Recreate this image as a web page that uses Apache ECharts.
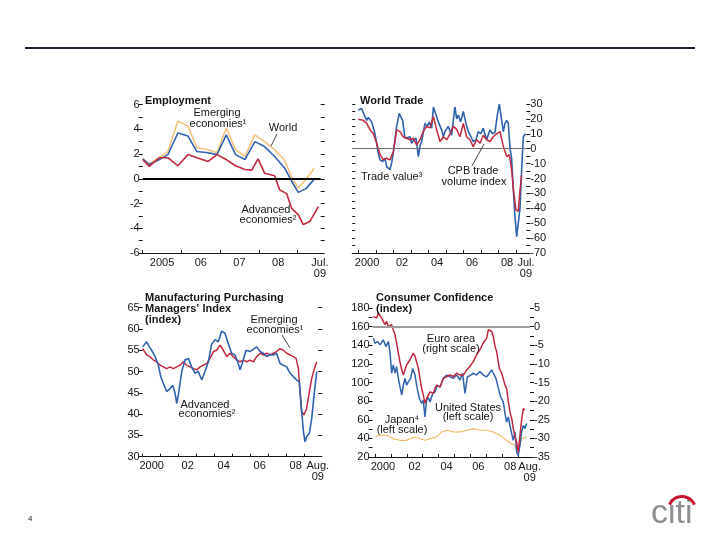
<!DOCTYPE html>
<html><head><meta charset="utf-8">
<script src="https://cdn.jsdelivr.net/npm/echarts@6/dist/echarts.min.js"></script>
<style>html,body{margin:0;padding:0;background:#fff}#c{width:720px;height:540px}</style>
</head><body><div id="c"></div>
<script>
// ---------- Employment (percent change) ----------
const empDates = [2005.0, 2005.17, 2005.43, 2005.65, 2005.91, 2006.17, 2006.4, 2006.69, 2006.92, 2007.16, 2007.4, 2007.64, 2007.9, 2008.15, 2008.41, 2008.67, 2008.85, 2009.02, 2009.22, 2009.43];
const empWorld = [1.6, 1.15, 1.55, 1.95, 3.7, 3.45, 2.2, 2.1, 1.95, 3.55, 1.95, 1.55, 3.0, 2.6, 1.8, 0.85, -0.2, -1.1, -0.8, -0.05];
const empEmerging = [1.6, 1.2, 1.7, 2.2, 4.65, 4.25, 2.5, 2.35, 2.1, 4.1, 2.35, 1.8, 3.55, 3.0, 2.35, 1.5, 0.1, -0.75, -0.05, 0.85];
const empAdvDates = [2005.0, 2005.17, 2005.43, 2005.65, 2005.91, 2006.17, 2006.4, 2006.69, 2006.92, 2007.16, 2007.4, 2007.64, 2007.82, 2007.98, 2008.15, 2008.41, 2008.54, 2008.72, 2008.85, 2009.02, 2009.15, 2009.32, 2009.54];
const empAdvanced = [1.55, 1.0, 1.7, 1.7, 1.05, 1.95, 1.7, 1.4, 1.95, 1.55, 1.05, 0.75, 0.7, 1.6, 0.45, 0.25, -0.9, -1.2, -2.4, -2.9, -3.7, -3.45, -2.25];
const empTicks = [2005, 2006, 2007, 2008, 2009];
const empLabelPos = [2005.5, 2006.5, 2007.5, 2008.5, 2009.58];
const empLabels = ['2005', '06', '07', '08', 'Jul.\n09'];

// ---------- World trade ----------
const tradeValueDates = [2000.0, 2000.19, 2000.29, 2000.48, 2000.57, 2000.76, 2000.86, 2000.95, 2001.05, 2001.14, 2001.24, 2001.39, 2001.52, 2001.62, 2001.81, 2001.9, 2002.0, 2002.19, 2002.34, 2002.44, 2002.53, 2002.67, 2002.76, 2002.95, 2003.05, 2003.18, 2003.3, 2003.43, 2003.52, 2003.62, 2003.81, 2003.94, 2004.06, 2004.19, 2004.29, 2004.48, 2004.57, 2004.76, 2004.86, 2004.95, 2005.14, 2005.33, 2005.52, 2005.62, 2005.71, 2005.85, 2006.0, 2006.15, 2006.29, 2006.44, 2006.57, 2006.72, 2006.86, 2006.99, 2007.14, 2007.33, 2007.52, 2007.68, 2007.81, 2007.96, 2008.06, 2008.19, 2008.29, 2008.38, 2008.48, 2008.57, 2008.67, 2008.76, 2008.86, 2008.95, 2009.05, 2009.14, 2009.24, 2009.33, 2009.43, 2009.55];
const tradeValue = [26, 27, 24, 19, 21, 18, 19, 10, 3.7, -3, -7.5, -8.6, -6.4, -12, -14, -9.7, -3, 14.8, 23.7, 25, 19, 7, 5.9, 8, 3.7, 6, 7, -5.3, 1.4, 5, 17, 15, 18, 13.7, 28, 21.5, 18, 12.6, 8, 11.5, 15, 9, 28, 20, 22.6, 18, 25, 17, 11.5, 8, 4.8, 5.9, 11.5, 10, 13.7, 6, 12.6, 10, 11, 23.7, 30, 19, 11.5, 17, 19, 17, 0.3, -6.4, -27.5, -45, -59, -60, -40, -15, 8, 10];
const cpbDates = [2000.0, 2000.29, 2000.48, 2000.67, 2000.86, 2001.05, 2001.24, 2001.43, 2001.62, 2001.81, 2002.0, 2002.19, 2002.38, 2002.57, 2002.76, 2002.95, 2003.14, 2003.33, 2003.52, 2003.71, 2003.9, 2004.1, 2004.29, 2004.48, 2004.67, 2004.86, 2005.05, 2005.24, 2005.43, 2005.62, 2005.81, 2006.0, 2006.19, 2006.38, 2006.57, 2006.76, 2006.95, 2007.14, 2007.33, 2007.52, 2007.71, 2007.9, 2008.1, 2008.29, 2008.48, 2008.63, 2008.76, 2008.86, 2009.01, 2009.14, 2009.24, 2009.33];
const cpbVolume = [19.7, 19, 17, 12.6, 10, 3.7, -4, -7.5, -6.4, -7.5, -2, 12.6, 11.5, 8, 7, 6, 7, 2.5, 5.9, 11.5, 15, 14, 21.5, 12.6, 4.8, 8, 6, 10, 15, 13, 8, 17, 8, 6, 1.4, 6, 3.7, 9, 6, 4.8, 8, 10, 11.5, 1.4, -5.3, -4, -14, -27.5, -41, -42, -28, -18];
const yearTicks = [2000, 2001, 2002, 2003, 2004, 2005, 2006, 2007, 2008, 2009];
const tradeLabelPos = [2000.5, 2002.5, 2004.5, 2006.5, 2008.5, 2009.58];
const tradeLabels = ['2000', '02', '04', '06', '08', 'Jul.\n09'];

// ---------- Manufacturing PMI ----------
const pmiAdvDates = [2000.0, 2000.22, 2000.37, 2000.5, 2000.69, 2000.87, 2001.0, 2001.15, 2001.33, 2001.52, 2001.67, 2001.8, 2001.89, 2001.98, 2002.17, 2002.35, 2002.54, 2002.72, 2002.91, 2003.09, 2003.28, 2003.46, 2003.65, 2003.83, 2004.02, 2004.2, 2004.39, 2004.57, 2004.76, 2004.94, 2005.13, 2005.31, 2005.41, 2005.59, 2005.74, 2005.96, 2006.15, 2006.33, 2006.52, 2006.7, 2006.89, 2007.07, 2007.26, 2007.44, 2007.63, 2007.81, 2008.0, 2008.19, 2008.37, 2008.56, 2008.7, 2008.83, 2008.93, 2009.02, 2009.11, 2009.26, 2009.39, 2009.52, 2009.67];
const pmiAdvanced = [55.8, 57, 55.8, 55, 53.5, 51.5, 48.8, 47.2, 45.3, 46, 46.8, 44.9, 42.5, 44.5, 50, 52.7, 53.1, 51.1, 49.6, 50, 48, 50, 52.3, 56.5, 57.5, 57, 59.5, 59, 56.5, 54.3, 53.9, 51.9, 50.4, 52.7, 55, 54.7, 55.2, 55.8, 54.7, 54.3, 53.5, 54, 53.9, 54.3, 51.9, 51.5, 51.1, 49.6, 48.8, 48, 47.6, 40.6, 35.9, 33.5, 34.7, 35.5, 39, 44.5, 50];
const pmiEmDates = [2000.0, 2000.22, 2000.41, 2000.59, 2000.78, 2000.96, 2001.15, 2001.33, 2001.52, 2001.7, 2001.89, 2002.07, 2002.26, 2002.44, 2002.63, 2002.81, 2003.0, 2003.19, 2003.37, 2003.56, 2003.74, 2003.93, 2004.11, 2004.3, 2004.48, 2004.67, 2004.85, 2005.04, 2005.22, 2005.41, 2005.59, 2005.78, 2005.96, 2006.15, 2006.33, 2006.52, 2006.7, 2006.89, 2007.07, 2007.26, 2007.44, 2007.63, 2007.81, 2008.0, 2008.19, 2008.37, 2008.52, 2008.65, 2008.74, 2008.83, 2008.96, 2009.11, 2009.26, 2009.39, 2009.52, 2009.67];
const pmiEmerging = [55.4, 53.9, 53.5, 52.7, 52.3, 51.5, 51.1, 50.7, 51.1, 50.7, 51.1, 51.5, 52.3, 51.5, 51.1, 50.7, 50.4, 51.1, 51.5, 51.9, 53.1, 54.7, 55, 56.2, 55, 53.5, 54.3, 53.5, 52.7, 52.3, 52.7, 52.3, 52.7, 52.3, 53.5, 54.3, 53.9, 54.3, 53.9, 54.3, 54.7, 55.4, 55, 54.3, 53.9, 53.5, 53.1, 50.7, 45.3, 40.6, 39.8, 41.4, 45.3, 48.4, 50.4, 52.3];
const augLabelPos = [2000.5, 2002.5, 2004.5, 2006.5, 2008.5, 2009.73];
const augLabels = ['2000', '02', '04', '06', '08', 'Aug.\n09'];

// ---------- Consumer confidence ----------
const usDates = [1999.9, 2000.0, 2000.15, 2000.31, 2000.52, 2000.69, 2000.84, 2000.94, 2001.05, 2001.15, 2001.26, 2001.36, 2001.47, 2001.57, 2001.68, 2001.78, 2001.89, 2001.99, 2002.1, 2002.24, 2002.37, 2002.52, 2002.62, 2002.79, 2002.94, 2003.04, 2003.14, 2003.25, 2003.35, 2003.46, 2003.63, 2003.77, 2003.92, 2004.09, 2004.3, 2004.51, 2004.72, 2004.93, 2005.14, 2005.35, 2005.51, 2005.66, 2005.81, 2006.02, 2006.18, 2006.39, 2006.6, 2006.81, 2007.02, 2007.19, 2007.34, 2007.44, 2007.61, 2007.76, 2007.9, 2008.07, 2008.18, 2008.28, 2008.39, 2008.49, 2008.6, 2008.7, 2008.81, 2008.91, 2009.01, 2009.12, 2009.22, 2009.33, 2009.43, 2009.54];
const usConf = [147.6, 142, 144, 140.4, 145.8, 138.6, 144, 133, 110, 119, 110, 117, 104.5, 95.5, 86.5, 97, 104.5, 97, 101, 104.5, 115, 108, 97, 83, 77.5, 81, 63, 81, 84, 79, 88, 90, 97, 95, 104.5, 108, 106, 104.5, 108, 102.7, 110, 88.3, 106, 108, 110, 108, 111.7, 108, 106, 110, 113.5, 110, 104.5, 93.7, 84.7, 79, 66.7, 57.7, 63, 54, 45, 37.9, 46.9, 25.3, 21.7, 32.5, 46.9, 54, 50.5, 56];
const euroDates = [1999.9, 2000.1, 2000.21, 2000.42, 2000.63, 2000.73, 2000.84, 2001.05, 2001.15, 2001.26, 2001.36, 2001.47, 2001.57, 2001.68, 2001.78, 2001.89, 2001.99, 2002.2, 2002.31, 2002.41, 2002.52, 2002.62, 2002.73, 2002.83, 2002.94, 2003.04, 2003.14, 2003.25, 2003.35, 2003.46, 2003.67, 2003.77, 2003.88, 2004.09, 2004.3, 2004.51, 2004.72, 2004.93, 2005.14, 2005.35, 2005.56, 2005.77, 2005.97, 2006.18, 2006.39, 2006.6, 2006.81, 2007.02, 2007.13, 2007.23, 2007.34, 2007.44, 2007.55, 2007.65, 2007.82, 2007.97, 2008.07, 2008.18, 2008.28, 2008.39, 2008.49, 2008.6, 2008.7, 2008.81, 2008.91, 2009.01, 2009.12, 2009.22, 2009.33, 2009.43];
const euroConf = [2.75, 2.3, 3.65, 2.3, 0.5, 1.4, 0.05, 0.5, -0.84, -2.2, -4.4, -7.1, -9.4, -11.6, -13, -11.6, -10.3, -8.9, -8, -7.1, -8, -8.5, -11.2, -13.9, -16.6, -18.4, -20.6, -19.3, -18.4, -17.5, -17.9, -16.6, -15.7, -16.2, -13.9, -13.4, -13, -13.4, -12.5, -13, -13, -11.6, -10.7, -9.4, -7.6, -6.2, -4.4, -3.1, -0.84, -0.8, -1.3, -2.6, -5.3, -6.7, -11.2, -12.5, -13, -15.7, -16.6, -20.2, -22.9, -24.7, -27.4, -29.6, -31, -33.7, -29.2, -25.1, -22, -22.4];
const japanDates = [2000.0, 2000.31, 2000.73, 2001.15, 2001.57, 2001.99, 2002.2, 2002.52, 2002.83, 2003.14, 2003.46, 2003.88, 2004.19, 2004.51, 2004.93, 2005.35, 2005.77, 2006.18, 2006.6, 2007.02, 2007.44, 2007.86, 2008.28, 2008.6, 2008.81, 2008.91, 2009.01, 2009.12, 2009.22, 2009.33, 2009.54];
const japanConf = [41.5, 43.3, 43.3, 39.7, 37.9, 37.9, 39.7, 41.5, 39.7, 37.9, 39.7, 41.5, 46.9, 48.7, 46.9, 46.9, 48.7, 50.5, 48.7, 48.7, 46.9, 43.3, 37.9, 34.3, 32.5, 27, 25.3, 32.5, 39.7, 41.5, 41.5];

// ---------- rendering ----------
const F = '"Liberation Sans", Arial, Helvetica, sans-serif';
const INK = '#151515';
const BLUE = '#2f63ad', RED = '#c1283e', ORANGE = '#f1b760', ORANGE2 = '#f3c27c';
const zip = (d, v) => d.map((x, i) => [x, v[i]]);

function xAx(g, min, max, ticks, labPos, labTxt) {
  return {
    type: 'value', gridIndex: g, min: min, max: max, position: 'bottom',
    axisLine: { show: true, onZero: false, lineStyle: { color: INK, width: 1 } },
    axisTick: { show: true, inside: true, length: 3, customValues: ticks, lineStyle: { color: INK } },
    axisLabel: {
      show: true, customValues: labPos, margin: 4, fontFamily: F, fontSize: 11, color: INK, lineHeight: 11,
      formatter: function (v) { const i = labPos.findIndex(x => Math.abs(x - v) < 0.01); return i >= 0 ? labTxt[i] : ''; }
    },
    splitLine: { show: false }
  };
}
function yAx(g, pos, min, max, interval, o) {
  return {
    type: 'value', gridIndex: g, position: pos, min: min, max: max, interval: interval,
    axisLine: { show: false, onZero: false },
    axisTick: { show: true, inside: !!o.inside, length: o.tick || 4, lineStyle: { color: INK } },
    minorTick: { show: !!o.minor, splitNumber: 2, length: 4, lineStyle: { color: INK } },
    axisLabel: { show: !!o.labels, margin: o.margin || 3, fontFamily: F, fontSize: 11, color: INK },
    splitLine: { show: false }
  };
}
function line(name, x, y, data, color, width) {
  return { name: name, type: 'line', xAxisIndex: x, yAxisIndex: y, data: data, showSymbol: false, symbol: 'none',
    lineStyle: { color: color, width: width || 1.6 }, emphasis: { disabled: true }, silent: true, animation: false };
}
function hline(val, color, width) {
  return { silent: true, symbol: 'none', label: { show: false }, emphasis: { disabled: true },
    lineStyle: { color: color, width: width, type: 'solid' }, data: [{ yAxis: val }] };
}

const series = [];
const s1 = line('Emerging economies', 0, 0, zip(empDates, empEmerging), ORANGE2, 1.6);
s1.markLine = hline(0, '#000', 2);
series.push(s1);
series.push(line('World', 0, 0, zip(empDates, empWorld), BLUE, 1.6));
series.push(line('Advanced economies', 0, 0, zip(empAdvDates, empAdvanced), RED, 1.6));
const s4 = line('Trade value', 1, 2, zip(tradeValueDates, tradeValue), BLUE, 1.6);
s4.markLine = hline(0, '#707070', 1);
series.push(s4);
series.push(line('CPB trade volume index', 1, 2, zip(cpbDates, cpbVolume), RED, 1.5));
series.push(line('Emerging economies PMI', 2, 4, zip(pmiEmDates, pmiEmerging), RED, 1.5));
series.push(line('Advanced economies PMI', 2, 4, zip(pmiAdvDates, pmiAdvanced), BLUE, 1.6));
series.push(line('Japan', 3, 6, zip(japanDates, japanConf), ORANGE, 1.1));
series.push(line('United States', 3, 6, zip(usDates, usConf), BLUE, 1.5));
const s10 = line('Euro area', 3, 7, zip(euroDates, euroConf), RED, 1.5);
s10.markLine = hline(0, '#9c9c9c', 2);
series.push(s10);

function txt(t, x, y, o) {
  o = o || {};
  return { type: 'text', silent: true, z: 100, style: {
    text: t, x: x, y: y, fill: INK, font: (o.bold ? 'bold ' : '') + (o.size || 11) + 'px ' + F,
    align: o.align || 'center', textAlign: o.align || 'center', verticalAlign: 'middle', textVerticalAlign: 'middle',
    lineHeight: o.lh || 10 } };
}
function seg(x1, y1, x2, y2, c, w) {
  return { type: 'line', silent: true, z: 100, shape: { x1: x1, y1: y1, x2: x2, y2: y2 }, style: { stroke: c || INK, lineWidth: w || 0.8 } };
}

const graphics = [
  seg(25, 48, 695, 48, '#1d2738', 2),
  // Employment
  txt('Employment', 145, 101, { bold: true, align: 'left' }),
  txt('Emerging', 217, 113), txt('economies\u00b9', 218, 123.5),
  txt('World', 283, 128), seg(277, 134, 271, 146),
  txt('Advanced', 266, 210), txt('economies\u00b2', 268, 220),
  // World trade
  txt('World Trade', 360, 101, { bold: true, align: 'left' }),
  txt('Trade value\u00b3', 361, 177, { align: 'left' }),
  txt('CPB trade', 473, 171), txt('volume index', 474, 182),
  seg(472, 166, 484, 144),
  // PMI
  txt('Manufacturing Purchasing', 145, 298, { bold: true, align: 'left' }),
  txt('Managers\u2019 Index', 145, 309, { bold: true, align: 'left' }),
  txt('(index)', 145, 320, { bold: true, align: 'left' }),
  txt('Emerging', 274, 320), txt('economies\u00b9', 275, 330),
  seg(282, 335, 290, 348),
  txt('Advanced', 205, 405), txt('economies\u00b2', 207, 414),
  // Consumer confidence
  txt('Consumer Confidence', 376, 298, { bold: true, align: 'left' }),
  txt('(index)', 376, 309, { bold: true, align: 'left' }),
  txt('Euro area', 451, 339), txt('(right scale)', 451, 348.5),
  txt('United States', 468, 407.5), txt('(left scale)', 468, 417),
  txt('Japan\u2074', 402, 420), txt('(left scale)', 402, 429.5),
  // footer
  txt('4', 28, 519, { size: 8, align: 'left' }),
  { type: 'text', silent: true, z: 100, style: { text: 'citi', x: 651, y: 531, fill: '#8d9094',
    font: '34px ' + F, align: 'left', textAlign: 'left', verticalAlign: 'bottom', textVerticalAlign: 'bottom' } },
  { type: 'arc', silent: true, z: 100, shape: { cx: 682, cy: 510, r: 13.5, startAngle: Math.PI * 1.13, endAngle: Math.PI * 1.87, clockwise: true },
    style: { stroke: '#c8102e', lineWidth: 3, fill: null } }
];

const option = {
  animation: false,
  backgroundColor: '#ffffff',
  grid: [
    { left: 142.7, top: 104.5, width: 178, height: 148.5, outerBoundsMode: 'none', containLabel: false },
    { left: 352.2, top: 104, width: 174.1, height: 149, outerBoundsMode: 'none', containLabel: false },
    { left: 142.7, top: 307.7, width: 175.5, height: 149, outerBoundsMode: 'none', containLabel: false },
    { left: 372.6, top: 308, width: 157.4, height: 149, outerBoundsMode: 'none', containLabel: false }
  ],
  xAxis: [
    xAx(0, 2005, 2009.6, empTicks, empLabelPos, empLabels),
    xAx(1, 1999.65, 2009.6, yearTicks, tradeLabelPos, tradeLabels),
    xAx(2, 2000, 2009.75, yearTicks, augLabelPos, augLabels),
    xAx(3, 1999.85, 2009.75, yearTicks, augLabelPos, augLabels)
  ],
  yAxis: [
    yAx(0, 'left', -6, 6, 2, { labels: true, minor: true }),
    yAx(0, 'right', -6, 6, 1, {}),
    yAx(1, 'left', -70, 30, 5, { inside: true, tick: 3 }),
    yAx(1, 'right', -70, 30, 10, { labels: true, minor: true, margin: 4 }),
    yAx(2, 'left', 30, 65, 5, { labels: true }),
    yAx(2, 'right', 30, 65, 5, {}),
    yAx(3, 'left', 20, 180, 20, { labels: true, minor: true }),
    yAx(3, 'right', -35, 5, 5, { labels: true, minor: true, margin: 4 })
  ],
  series: series,
  graphic: { elements: graphics }
};
const chart = echarts.init(document.getElementById('c'), null, { renderer: 'canvas' });
chart.setOption(option);
</script></body></html>
